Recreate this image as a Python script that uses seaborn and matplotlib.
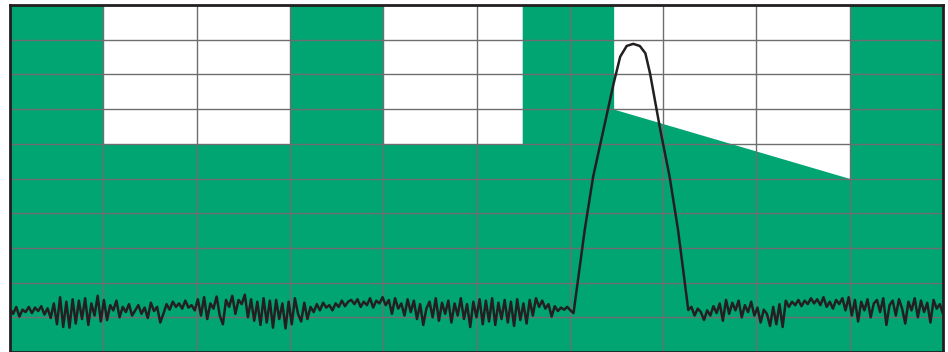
import numpy as np
import pandas as pd
import matplotlib
matplotlib.use("Agg")
import matplotlib.pyplot as plt
import seaborn as sns

# ── mask (upper limit) in grid divisions ─────────────────────
mask_x = [0, 1, 1, 3, 3, 4, 4, 5.49, 5.49, 6.47, 6.47, 9, 9, 10]
mask_y = [10, 10, 6, 6, 10, 10, 6, 6, 10, 10, 7, 5, 10, 10]

# ── noise floor ──────────────────────────────────────────────
noise_left = [
    1.25, 1.10, 1.30, 1.02, 1.22, 1.15, 1.30, 1.12, 1.28, 1.18,
    1.32, 1.08, 1.26, 0.98, 1.40, 0.80, 1.58, 0.72, 1.45, 0.70,
    1.52, 0.82, 1.48, 0.95, 1.55, 0.78, 1.40, 1.05, 1.62, 0.88,
    1.50, 0.92, 1.35, 1.20, 1.48, 1.00, 1.30, 1.15, 1.38, 1.05,
    1.20, 1.35, 1.10, 1.28, 0.98, 1.42, 1.18, 1.30, 0.85, 1.10,
    1.38, 1.22, 1.45, 1.30, 1.40, 1.25, 1.48, 1.28, 1.35, 1.20,
    1.52, 1.05, 1.58, 0.95, 1.40, 1.25, 1.60, 1.05, 0.80, 1.50,
    1.30, 1.62, 1.10, 1.50, 1.38, 1.65, 1.00, 1.52, 0.90, 1.45,
    0.78, 1.55, 0.85, 1.48, 0.70, 1.50, 0.95, 1.40, 0.68, 1.45,
    0.80, 1.55, 1.10, 0.88, 1.42, 0.95, 1.30, 1.15, 1.38, 1.20,
    1.42, 1.28, 1.35, 1.20, 1.40, 1.30, 1.48, 1.32, 1.45, 1.50,
    1.38, 1.52, 1.30, 1.45, 1.35, 1.55, 1.28, 1.48, 1.40, 1.58,
    1.35, 1.50, 1.10, 1.55, 1.25, 1.40, 1.05, 1.52, 1.15, 1.48,
    0.95, 1.38, 0.78, 1.25, 1.45, 1.00, 1.55, 0.90, 1.42, 1.10,
    1.48, 0.85, 1.40, 1.05, 1.55, 0.95, 1.38, 0.72, 1.45, 1.00,
    1.52, 0.80, 1.48, 0.88, 1.55, 0.78, 1.42, 0.95, 1.50, 0.85,
    1.45, 0.75, 1.52, 0.92, 1.40, 0.82, 1.50, 1.05, 1.55, 1.30,
    1.48, 1.25, 1.38, 1.02, 1.32, 1.18, 1.28, 1.22, 1.30, 1.20, 1.12,
]
noise_right = [
    1.21, 1.30, 1.05, 1.25, 1.15, 0.92, 1.20, 1.05, 1.32, 1.12,
    1.40, 0.90, 1.50, 1.10, 1.42, 1.20, 1.48, 1.00, 1.35, 1.15,
    1.45, 1.05, 1.28, 0.85, 1.22, 1.10, 0.75, 1.30, 0.80, 1.38,
    0.72, 1.48, 1.30, 1.45, 1.35, 1.50, 1.32, 1.48, 1.38, 1.55,
    1.40, 1.52, 1.35, 1.58, 1.30, 1.45, 1.25, 1.50, 1.38, 1.55,
    1.20, 1.58, 1.05, 1.50, 0.88, 1.45, 1.20, 1.52, 1.00, 1.40,
    1.50, 1.15, 1.55, 0.78, 1.35, 1.48, 1.05, 1.52, 1.25, 0.82,
    1.45, 1.20, 1.55, 1.00, 1.48, 1.15, 1.42, 0.85, 1.50, 1.25, 1.38, 1.10,
]
noise_left_span = (0.0, 6.04)
noise_right_span = (7.27, 10.0)

# ── carrier peak ─────────────────────────────────────────────
peak_x = [6.16, 6.25, 6.36, 6.47, 6.54, 6.61, 6.68, 6.75, 6.81, 6.86, 6.97, 7.07, 7.16]
peak_y = [3.52, 5.05, 6.40, 7.74, 8.51, 8.82, 8.88, 8.82, 8.61, 8.03, 6.40, 5.05, 3.52]

green = "#00a572"
grid_col = "#6e6e6e"

x_left = np.linspace(*noise_left_span, len(noise_left))
x_right = np.linspace(*noise_right_span, len(noise_right))
trace = pd.DataFrame({
    "x": np.concatenate([x_left, peak_x, x_right]),
    "y": np.concatenate([noise_left, peak_y, noise_right]),
})

sns.set_style("white")
fig = plt.figure(figsize=(9.48, 3.52), dpi=100)
ax = fig.add_axes([10 / 948, 0, 933 / 948, 347 / 352])

ax.fill_between(mask_x, mask_y, 0, color=green, linewidth=0, zorder=1)

# grid drawn by hand so every division shows above the fill
for v in range(1, 10):
    ax.axvline(v, color=grid_col, linewidth=1.0, zorder=2)
    ax.axhline(v, color=grid_col, linewidth=1.0, zorder=2)

sns.lineplot(data=trace, x="x", y="y", ax=ax, color="#231f20",
             linewidth=1.8, estimator=None, sort=False, zorder=4)

ax.set_xlim(0, 10)
ax.set_ylim(0, 10)
ax.set_xticks([])
ax.set_yticks([])
ax.set_xlabel("")
ax.set_ylabel("")
for s in ax.spines.values():
    s.set_color("#231f20")
    s.set_linewidth(2)
    s.set_zorder(5)

fig.savefig("out.png", dpi=100)
